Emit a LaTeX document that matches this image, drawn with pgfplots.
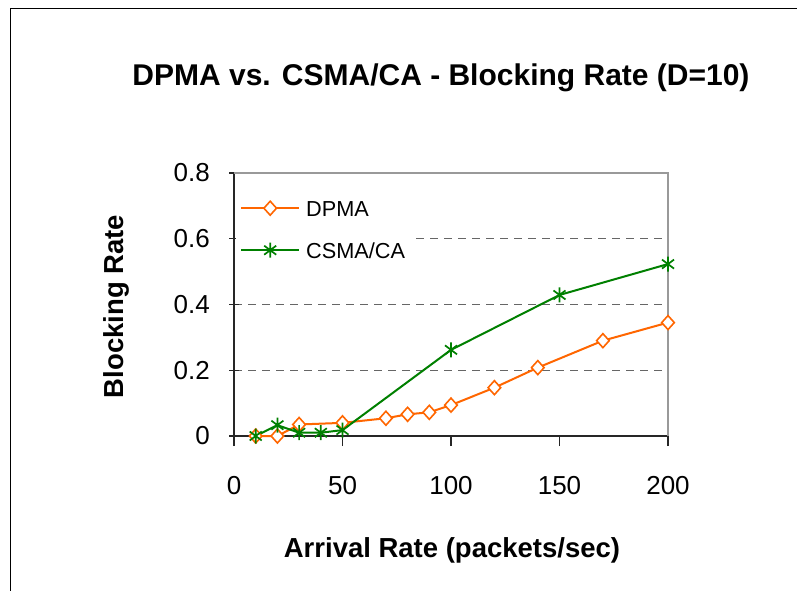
\documentclass[border=0pt]{standalone}
\usepackage{pgfplots}
\pgfplotsset{compat=1.18}
\usepackage{fontspec}
\setmainfont{Liberation Sans}
\definecolor{dpma}{HTML}{FF6600}
\definecolor{csma}{HTML}{008000}
% asterisk-like star: vertical bar plus a slanted cross
\pgfdeclareplotmark{xlstar}{%
  \pgfpathmoveto{\pgfqpoint{0pt}{\pgfplotmarksize}}%
  \pgfpathlineto{\pgfqpoint{0pt}{-\pgfplotmarksize}}%
  \pgfpathmoveto{\pgfqpoint{-0.8\pgfplotmarksize}{0.6\pgfplotmarksize}}%
  \pgfpathlineto{\pgfqpoint{0.8\pgfplotmarksize}{-0.6\pgfplotmarksize}}%
  \pgfpathmoveto{\pgfqpoint{-0.8\pgfplotmarksize}{-0.6\pgfplotmarksize}}%
  \pgfpathlineto{\pgfqpoint{0.8\pgfplotmarksize}{0.6\pgfplotmarksize}}%
  \pgfusepathqstroke}
\begin{document}
\begin{tikzpicture}[x=1pt,y=1pt]
\useasboundingbox (0,0) rectangle (797,590);
\fill[white] (0,0) rectangle (797,590);
% outer frame
\draw[line width=1.6pt] (10.5,-5) -- (10.5,581.5) -- (805,581.5);
% titles
\node[font=\fontsize{30}{36}\selectfont\bfseries, anchor=base, inner sep=0pt] at (441,504) {DPMA vs. CSMA/CA - Blocking Rate (D=10)};
\node[font=\fontsize{27.5}{33}\selectfont\bfseries, anchor=base, inner sep=0pt] at (452,32.5) {Arrival Rate (packets/sec)};
\node[font=\fontsize{27.5}{33}\selectfont\bfseries, anchor=base, rotate=90, inner sep=0pt] at (123.5,283.5) {Blocking Rate};
\begin{axis}[
  at={(234pt,154pt)}, anchor=south west,
  scale only axis, width=434pt, height=263pt,
  xmin=0, xmax=200, ymin=0, ymax=0.8,
  xtick={0,50,100,150,200},
  ytick={0,0.2,0.4,0.6,0.8},
  yticklabels={0,0.2,0.4,0.6,0.8},
  axis x line*=bottom, axis y line*=left,
  axis line style={-, draw=black!85, line width=1.8pt},
  tick style={draw=black!85, line width=1.4pt},
  tick align=center, major tick length=10pt,
  x tick style={yshift=-5pt},
  /pgf/number format/assume math mode=true,
  tick label style={font=\fontsize{26}{30}\selectfont},
  xticklabel style={inner sep=0pt, anchor=north, yshift=-35pt},
  yticklabel style={inner sep=0pt, anchor=east, xshift=-19pt},
  ymajorgrids,
  major grid style={draw=black!60, line width=1.3pt, dash pattern=on 8pt off 6pt},
  clip=false,
  legend style={
    at={(axis description cs:0,1)}, anchor=north west,
    xshift=1.5pt, yshift=-1pt,
    draw=none, fill=white,
    inner xsep=4.5pt, inner ysep=26pt,
    font=\fontsize{21.7}{26}\selectfont,
    column sep=6pt, row sep=26pt,
    cells={anchor=center},
    nodes={inner sep=0pt, text height=16pt, text depth=0pt, text width=104pt, align=left},
  },
  legend image code/.code={%
    \draw[mark repeat=2, mark phase=2] plot coordinates {(0pt,0pt) (29pt,0pt) (58pt,0pt)};},
]
% plot-area frame, top and right sides
\draw[black!40, line width=2pt] (rel axis cs:0,1) -- (rel axis cs:1,1) -- (rel axis cs:1,0);

\addplot[dpma, line width=2pt, mark=diamond*, mark size=7pt,
  mark options={solid, fill=white, line width=1.6pt, xscale=1.2}]
  coordinates {(10,0) (20,0) (30,0.035) (50,0.04) (70,0.054) (80,0.066)
    (90,0.072) (100,0.094) (120,0.147) (140,0.208) (170,0.29) (200,0.345)};
\addlegendentry{DPMA}

\addplot[csma, line width=2pt, mark=xlstar, mark size=7.5pt,
  mark options={solid, line width=1.7pt}]
  coordinates {(10,0) (20,0.033) (30,0.01) (40,0.01) (50,0.018)
    (100,0.262) (150,0.429) (200,0.523)};
\addlegendentry{CSMA/CA}
\end{axis}
\end{tikzpicture}
\end{document}
